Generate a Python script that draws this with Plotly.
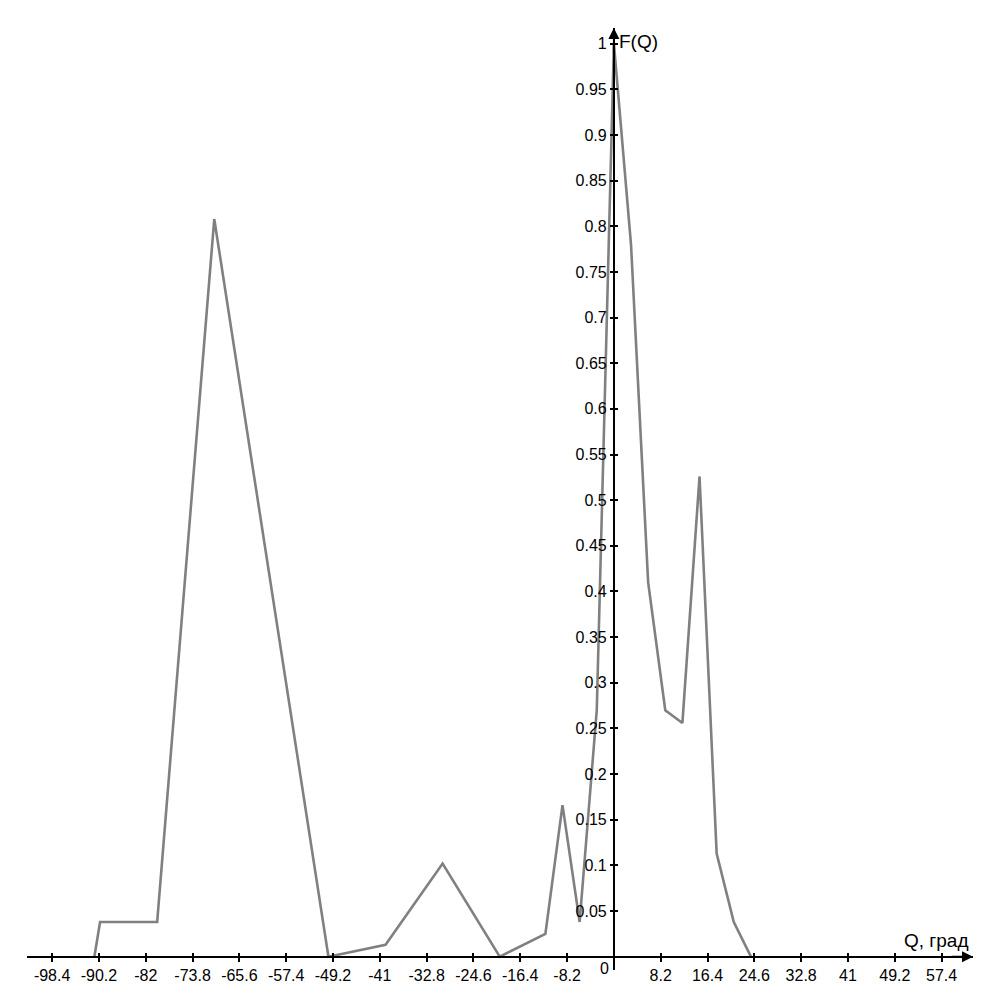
import plotly.graph_objects as go

# ---- data ----
q_values = [-91, -90, -80, -70, -50, -40, -30, -20, -12, -9, -6, -3, 0, 3, 6, 9, 12, 15, 18, 21, 24]
f_values = [0, 0.038, 0.038, 0.808, 0, 0.013, 0.102, 0, 0.025, 0.166, 0.038, 0.27, 1.0,
            0.78, 0.41, 0.27, 0.256, 0.526, 0.113, 0.038, 0]

x_tickvals = [-98.4, -90.2, -82, -73.8, -65.6, -57.4, -49.2, -41, -32.8, -24.6, -16.4, -8.2,
              8.2, 16.4, 24.6, 32.8, 41, 49.2, 57.4]
x_ticktext = ["-98.4", "-90.2", "-82", "-73.8", "-65.6", "-57.4", "-49.2", "-41", "-32.8",
              "-24.6", "-16.4", "-8.2", "8.2", "16.4", "24.6", "32.8", "41", "49.2", "57.4"]
y_tickvals = [0.05, 0.1, 0.15, 0.2, 0.25, 0.3, 0.35, 0.4, 0.45, 0.5, 0.55, 0.6, 0.65, 0.7,
              0.75, 0.8, 0.85, 0.9, 0.95, 1]
y_ticktext = ["0.05", "0.1", "0.15", "0.2", "0.25", "0.3", "0.35", "0.4", "0.45", "0.5",
              "0.55", "0.6", "0.65", "0.7", "0.75", "0.8", "0.85", "0.9", "0.95", "1"]

x_title = "Q, град"
y_title = "F(Q)"

XMIN, XMAX = -102.8, 62.9
YMIN, YMAX = -0.0146, 1.0172

FONT = "Liberation Sans, Arial, sans-serif"

x_pos = (0 - YMIN) / (YMAX - YMIN)
y_pos = (0 - XMIN) / (XMAX - XMIN)

fig = go.Figure()
fig.add_trace(go.Scatter(
    x=q_values, y=f_values, mode="lines",
    line=dict(color="#808080", width=2.6),
    hoverinfo="x+y",
))

tickfont = dict(family=FONT, size=16, color="black")

fig.update_layout(
    width=1000, height=1000,
    margin=dict(l=19, r=35, t=20, b=38, autoexpand=False),
    plot_bgcolor="white", paper_bgcolor="white",
    showlegend=False,
    xaxis=dict(
        range=[XMIN, XMAX], showgrid=False, zeroline=False, automargin=False,
        anchor="free", position=x_pos,
        showline=True, linecolor="black", linewidth=2,
        ticks="outside", ticklen=4, tickwidth=2, tickcolor="black",
        tickmode="array", tickvals=x_tickvals, ticktext=x_ticktext,
        tickfont=tickfont,
    ),
    xaxis2=dict(
        range=[XMIN, XMAX], overlaying="x", matches="x", showgrid=False, zeroline=False,
        anchor="free", position=x_pos, side="bottom", automargin=False,
        showline=False, ticks="inside", ticklen=4, tickwidth=2, tickcolor="black",
        tickmode="array", tickvals=x_tickvals, showticklabels=False,
    ),
    yaxis=dict(
        range=[YMIN, YMAX], showgrid=False, zeroline=False, automargin=False,
        anchor="free", position=y_pos,
        showline=True, linecolor="black", linewidth=2,
        ticks="outside", ticklen=3, tickwidth=2, tickcolor="black",
        tickmode="array", tickvals=y_tickvals, ticktext=y_ticktext,
        tickfont=tickfont,
    ),
    yaxis2=dict(
        range=[YMIN, YMAX], overlaying="y", matches="y", showgrid=False, zeroline=False,
        anchor="free", position=y_pos, side="left", automargin=False,
        showline=False, ticks="inside", ticklen=3, tickwidth=2, tickcolor="black",
        tickmode="array", tickvals=y_tickvals, showticklabels=False,
    ),
)

# invisible carrier trace so the overlay (tick) axes are drawn
fig.add_trace(go.Scatter(x=q_values, y=f_values, xaxis="x2", yaxis="y2", mode="lines",
                         line=dict(width=0), hoverinfo="skip", showlegend=False))

annotations = [
    # arrow heads of the axes
    dict(x=XMAX, y=0, ax=XMAX - 4, ay=0, xref="x", yref="y", axref="x", ayref="y",
         showarrow=True, arrowhead=2, arrowsize=1.1, arrowwidth=2, arrowcolor="black", text=""),
    dict(x=0, y=YMAX, ax=0, ay=YMAX - 0.03, xref="x", yref="y", axref="x", ayref="y",
         showarrow=True, arrowhead=2, arrowsize=1.1, arrowwidth=2, arrowcolor="black", text=""),
    # origin label
    dict(x=0, y=0, xref="x", yref="y", text="0", showarrow=False,
         xanchor="right", yanchor="top", xshift=-3, yshift=-1, font=tickfont),
    # axis titles
    dict(x=0, y=1, xref="x", yref="y", text=y_title, showarrow=False,
         xanchor="left", yanchor="middle", xshift=3, yshift=2,
         font=dict(family=FONT, size=19, color="black")),
    dict(x=XMAX, y=0, xref="x", yref="y", text=x_title, showarrow=False,
         xanchor="right", yanchor="bottom", xshift=-2, yshift=4,
         font=dict(family=FONT, size=19, color="black")),
]
fig.update_layout(annotations=annotations)

fig.write_html("out.html")
